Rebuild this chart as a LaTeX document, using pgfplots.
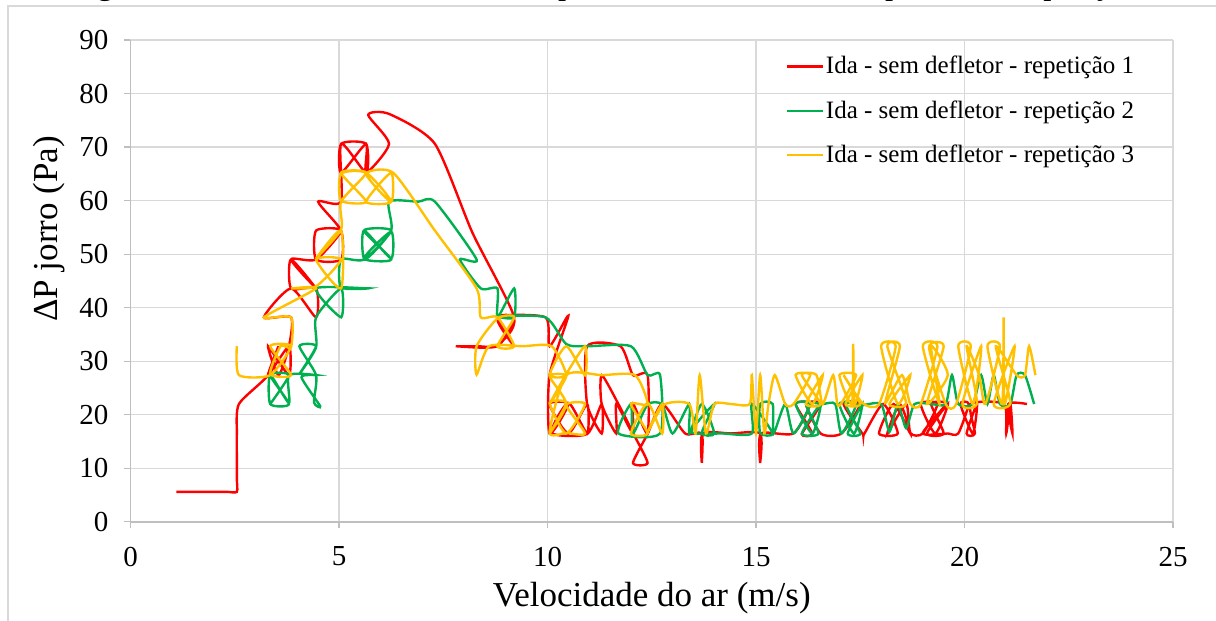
\documentclass[border=0pt]{standalone}
\usepackage{fontspec}
\setmainfont{Liberation Serif}
\usepackage{pgfplots}
\pgfplotsset{compat=1.18}
\definecolor{cred}{HTML}{FF0000}
\definecolor{cgreen}{HTML}{00B050}
\definecolor{cyellow}{HTML}{FFC000}
\definecolor{gridc}{HTML}{D9D9D9}
\definecolor{axc}{HTML}{BFBFBF}
\begin{document}
\begin{tikzpicture}
\path[use as bounding box] (0,0) rectangle (608pt,310.5pt);
\draw[gridc, line width=0.8pt] (4pt,-20pt) -- (4pt,307.5pt) -- (640pt,307.5pt);
\node[anchor=base, font=\fontsize{16.4}{19}\selectfont, inner sep=0pt] at (304pt,313.2pt) {Figura 3.5 – Curvas fluidodinâmicas para o leito sem defletor para cada repetição.};
\begin{axis}[
  at={(65.25pt,49.6pt)}, anchor=south west,
  width=521.25pt, height=240.9pt, scale only axis,
  xmin=0, xmax=25, ymin=0, ymax=90,
  xtick={0,5,...,25}, ytick={0,10,...,90},
  grid=major, major grid style={gridc, line width=0.6pt},
  axis x line*=bottom, axis y line*=left,
  axis line style={axc, line width=0.8pt},
  tick align=outside, major tick length=3pt,
  tick style={axc, line width=0.6pt},
  ticklabel style={font=\fontsize{14.5}{16}\selectfont},
  xticklabel style={yshift=-6pt},
  yticklabel style={xshift=-4.5pt},
  /pgf/number format/assume math mode=true,
  xlabel={Velocidade do ar (m/s)},
  ylabel={ΔP jorro (Pa)},
  label style={font=\fontsize{17.5}{20}\selectfont},
  xlabel style={at={(axis description cs:0.5,-0.1763)}, anchor=base},
  ylabel style={at={(axis description cs:-0.0705,0.608)}, anchor=base},
  legend style={at={(axis description cs:0.628,0.971)}, anchor=north west,
    draw=none, fill=none, font=\fontsize{12.5}{15}\selectfont,
    row sep=9.8pt, inner sep=0pt, nodes={inner sep=1pt}},
  legend cell align=left,
  legend image code/.code={\draw[#1, line width=1.2pt] (0pt,0pt) -- (18pt,0pt);},
  every axis plot/.append style={line width=1.2pt, smooth, tension=0.4},
]
% repeticao 1
\addplot[cred] coordinates {
(1.1,5.6) (1.8,5.6) (2.3,5.6) (2.55,5.6) (2.55,8) (2.55,12) (2.55,16.5) (2.6,22) (3.3,27.4)
(3.55,32.8) (3.3,27.4) (3.8,32.8) (3.8,27.4) (3.3,32.8) (3.55,27.4) (3.8,32.8)
(3.85,38.2) (3.2,38.2) (3.85,43.6) (4.45,38.2) (4.45,43.6) (3.85,43.6)
(3.85,49) (4.45,43.6) (3.85,49) (4.45,49) (5.05,54.4) (4.45,54.4) (4.45,49)
(5.05,49) (5.05,54.4) (4.5,59.8) (5.05,59.8) (5.05,70.6) (5.65,65.2) (5.65,70.6)
(5.05,70.6) (5.05,65.2) (5.65,70.6) (5.65,65.2) (6.2,70.6) (5.7,76.0) (6.2,76.2) (7.3,70.6)
(8.2,54) (9.2,38.2) (8.8,33.0) (8.3,32.8) (7.8,32.8) (8.8,32.8) (9.2,38.2) (8.8,38.2)
(9.2,32.8) (8.8,38.2) (9.95,38.2) (10.05,32.8) (10.5,38.5) (10.05,27.4)
(10.05,16.5) (10.5,22) (10.05,22) (10.5,16.5) (10.95,22) (10.95,16.5) (10.5,22.2)
(10.1,16.6) (10.95,16.4) (11.3,22) (11.3,16.5) (10.95,22) (10.95,32.8) (11.75,32.8)
(12.05,27.4) (12.4,27.4) (12.4,16.5) (12.05,22) (12.05,16.5) (11.65,22) (11.65,16.5)
(11.3,22) (11.3,27.4) (11.7,22) (12.05,16.6) (12.4,11) (12.05,11) (12.4,16.4)
(12.75,22) (13.3,16.5) (13.7,16.5) (13.7,11) (13.72,16.5) (14.4,16.5) (15.1,16.5) (15.1,11)
(15.12,16.5) (15.9,16.5) (16.3,22) (15.95,22) (16.35,16.5) (16.1,16.4) (16.55,22) (16.2,22)
(16.55,16.5) (17.05,16.5) (17.5,22) (17.1,22) (17.55,16.5) (17.6,16.5) (18.05,22)
(18.4,16.5) (17.95,16.5) (18.3,22) (18.7,16.5) (18.45,22) (18.15,16.5) (18.6,22) (18.7,16.6)
(19.0,16.5) (19.35,22) (18.95,22) (19.3,16.5) (19.6,22) (19.1,16.5) (19.5,16.5) (19.2,22)
(19.55,22) (19.0,16.6) (19.45,16.4) (19.6,16.5) (19.85,16.5) (20.1,22) (19.9,22) (20.2,16.5)
(20.3,22) (20.05,16.5) (20.25,16.5) (20.15,22) (20.95,22) (21.0,16.5) (21.1,22)
(21.15,16.5) (21.05,22) (21.5,22)
};
\addlegendentry{Ida - sem defletor - repetição 1}
% repeticao 2
\addplot[cgreen] coordinates {
(3.35,22) (3.8,27.4) (3.35,27.4) (3.8,22) (3.35,22) (3.35,27.4) (3.8,22.2) (3.8,27.4)
(4.45,27.4) (4.1,27.0) (4.55,21.6) (4.4,22.3) (4.45,27.4) (4.05,32.8) (4.45,32.8)
(4.05,27.6) (4.45,32.6) (4.45,38.2) (5.05,43.6) (5.05,38.2) (4.45,43.6) (5.7,43.6)
(5.05,43.8) (5.05,49) (5.6,49) (6.25,54.4) (5.6,54.4) (6.25,49) (5.6,49.2)
(6.25,54.2) (6.25,49.2) (5.6,54.4) (5.62,49) (6.25,54.4) (6.2,59.8) (6.9,59.8)
(7.3,59.8) (8.3,49) (7.9,49) (8.4,43.6) (8.8,43.6) (8.8,38.2) (9.2,43.6) (9.2,38.2)
(8.8,38.4) (9.95,38.2) (10.45,33.2) (10.95,32.8) (12.0,32.8) (12.4,27.4) (12.7,27.4)
(12.7,16.5) (11.7,16.5) (12.0,22) (12.05,16.5) (12.4,21.9) (12.75,21.9) (13.0,16.5)
(13.4,22) (13.4,16.5) (13.7,22) (14.0,16.5) (13.7,16.6) (14.0,22) (13.45,16.8)
(14.2,16.5) (14.9,16.5) (14.9,22) (15.4,16.5) (15.1,16.6) (15.1,22) (15.4,22) (15.42,16.5)
(15.7,22) (15.9,16.5) (16.3,22) (15.95,22) (16.35,16.5) (16.55,22) (16.1,16.5) (16.5,16.5)
(16.2,22) (16.6,22) (16.9,22) (17.05,16.5) (17.4,22) (17.0,22) (17.35,16.5) (17.55,22)
(17.2,16.5) (17.5,16.5) (17.15,22) (17.55,21.8) (18.0,22) (18.2,16.8) (18.4,22) (18.6,17.5)
(18.8,22) (19.2,22) (19.55,22) (19.7,27.4) (19.85,22) (20.2,22) (20.4,27.4) (20.55,22)
(20.7,27.4) (20.85,22) (21.1,22) (21.25,27.4) (21.45,27.4) (21.67,22)
};
\addlegendentry{Ida - sem defletor - repetição 2}
% repeticao 3
\addplot[cyellow] coordinates {
(2.55,32.8) (2.6,27.4) (3.35,27.4) (3.85,32.8) (3.35,32.8) (3.85,27.4) (3.35,27.6)
(3.6,32.8) (3.85,32.6) (3.85,38.2) (3.2,38.2) (4.45,43.6) (3.85,43.6) (4.45,44)
(5.05,49) (4.45,49) (5.05,43.6) (5.05,54.4) (4.45,49.2) (5.05,54.6) (5.05,59.8)
(5.65,65.2) (5.05,65.2) (5.65,59.8) (5.05,60) (5.05,65.0) (5.65,65.2) (6.25,59.8)
(5.65,59.8) (6.25,65.2) (6.25,59.8) (5.65,65.0) (6.3,65.2) (7.3,54.4) (8.3,43.6) (8.4,38.2)
(8.8,38.2) (9.2,32.8) (8.8,32.8) (9.2,38.2) (8.8,38.0) (8.3,32.8) (8.3,27.5)
(8.6,32.8) (9.4,32.8) (10.1,32.8) (10.45,27.4) (10.05,27.4) (10.45,32.8) (10.9,27.4) (10.9,32.8)
(10.45,27.6) (10.05,22) (10.45,27.2) (10.05,27.2) (10.45,22) (10.05,16.5) (10.45,22.2)
(10.05,22.2) (10.45,16.5) (10.9,22) (10.45,21.8) (10.9,16.5) (10.45,16.6) (10.05,16.7)
(10.45,27.4) (11.3,27.4) (12.1,27.4) (12.4,22) (12.0,22) (12.4,16.5) (12.0,16.5) (12.4,22.2)
(12.75,16.5) (12.75,22) (12.4,16.7) (12.8,21.9) (13.4,22) (13.55,16.5) (13.65,27.4)
(13.8,16.5) (14.0,22) (14.4,22) (14.85,22) (14.9,27.4) (15.0,16.5) (15.1,27.4) (15.2,16.5)
(15.3,22) (15.45,27.4) (15.7,22) (15.9,22) (16.3,27.4) (15.95,27.4) (16.35,22) (16.6,27.4)
(16.2,22) (16.55,22) (16.1,27.4) (16.45,27.4) (16.6,22) (16.85,27.4) (16.95,22)
(17.05,22.2) (17.4,27.4) (17.0,27.4) (17.3,22) (17.33,33.2) (17.36,22) (17.55,27.4)
(17.15,22) (17.5,22) (17.1,27.4) (17.55,22.2) (17.95,22) (18.35,32.8) (18.0,32.8)
(18.4,22) (18.7,27.4) (18.2,22) (18.6,22.2) (18.15,32.8) (18.45,32.8) (18.1,22.2)
(18.5,27.4) (18.7,22) (18.95,22) (19.35,32.8) (19.0,32.8) (19.4,22) (19.2,32.8)
(19.6,27.4) (19.1,22) (19.5,32.8) (19.15,32.6) (19.55,22) (19.8,22) (20.15,32.8)
(19.85,32.8) (20.2,22) (20.4,32.8) (19.95,22) (20.3,22.2) (20.05,32.8) (20.35,27.4)
(20.5,22) (20.85,32.8) (20.55,32.8) (20.9,22) (20.94,38.2) (20.96,22) (21.2,32.8)
(20.7,22) (21.1,22.2) (20.75,32.8) (21.25,27.4) (21.45,27.4) (21.55,32.8) (21.7,27.4)
};
\addlegendentry{Ida - sem defletor - repetição 3}
\end{axis}
\end{tikzpicture}
\end{document}
